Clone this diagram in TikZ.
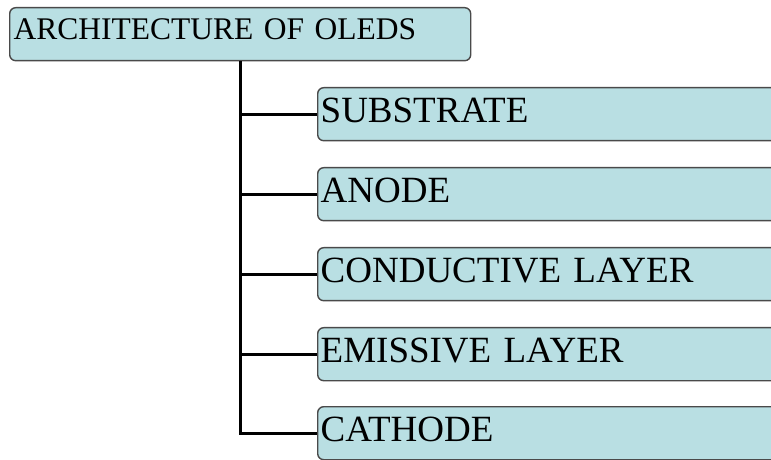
\documentclass[tikz,border=0pt]{standalone}
\usepackage{fontspec}
\setmainfont{Liberation Serif}
\definecolor{boxfill}{HTML}{B9DFE3}
\definecolor{boxline}{HTML}{4A4A4A}
\begin{document}
\begin{tikzpicture}[x=1bp,y=-1bp,
  box/.style={draw=boxline, line width=1.4bp, fill=boxfill, rounded corners=6bp,
    inner ysep=0pt, align=left},
  rootbox/.style={box, anchor=north west, minimum width=461bp, minimum height=53bp,
    text width=453bp, inner xsep=4bp, text height=21bp, text depth=11bp,
    font=\fontsize{31.5bp}{35bp}\selectfont},
  childbox/.style={box, anchor=north west, minimum width=473bp, minimum height=53bp,
    text width=467bp, inner xsep=3bp, text height=24.5bp, text depth=7bp,
    font=\fontsize{37bp}{41bp}\selectfont},
  link/.style={draw=black, line width=3.2bp}]
\clip (0,0) rectangle (771,460);
\fill[white] (0,0) rectangle (771,460);
\node[rootbox] (root) at (9,7) {ARCHITECTURE OF OLEDS};
\node[childbox] (sub) at (317,87) {SUBSTRATE};
\node[childbox] (ano) at (317,167) {ANODE};
\node[childbox] (con) at (317,247) {CONDUCTIVE LAYER};
\node[childbox] (emi) at (317,327) {EMISSIVE LAYER};
\node[childbox] (cat) at (317,406) {CATHODE};
\draw[link] (root.south) |- (cat.west);
\draw[link] (root.south |- sub.west) -- (sub.west);
\draw[link] (root.south |- ano.west) -- (ano.west);
\draw[link] (root.south |- con.west) -- (con.west);
\draw[link] (root.south |- emi.west) -- (emi.west);
\end{tikzpicture}
\end{document}
